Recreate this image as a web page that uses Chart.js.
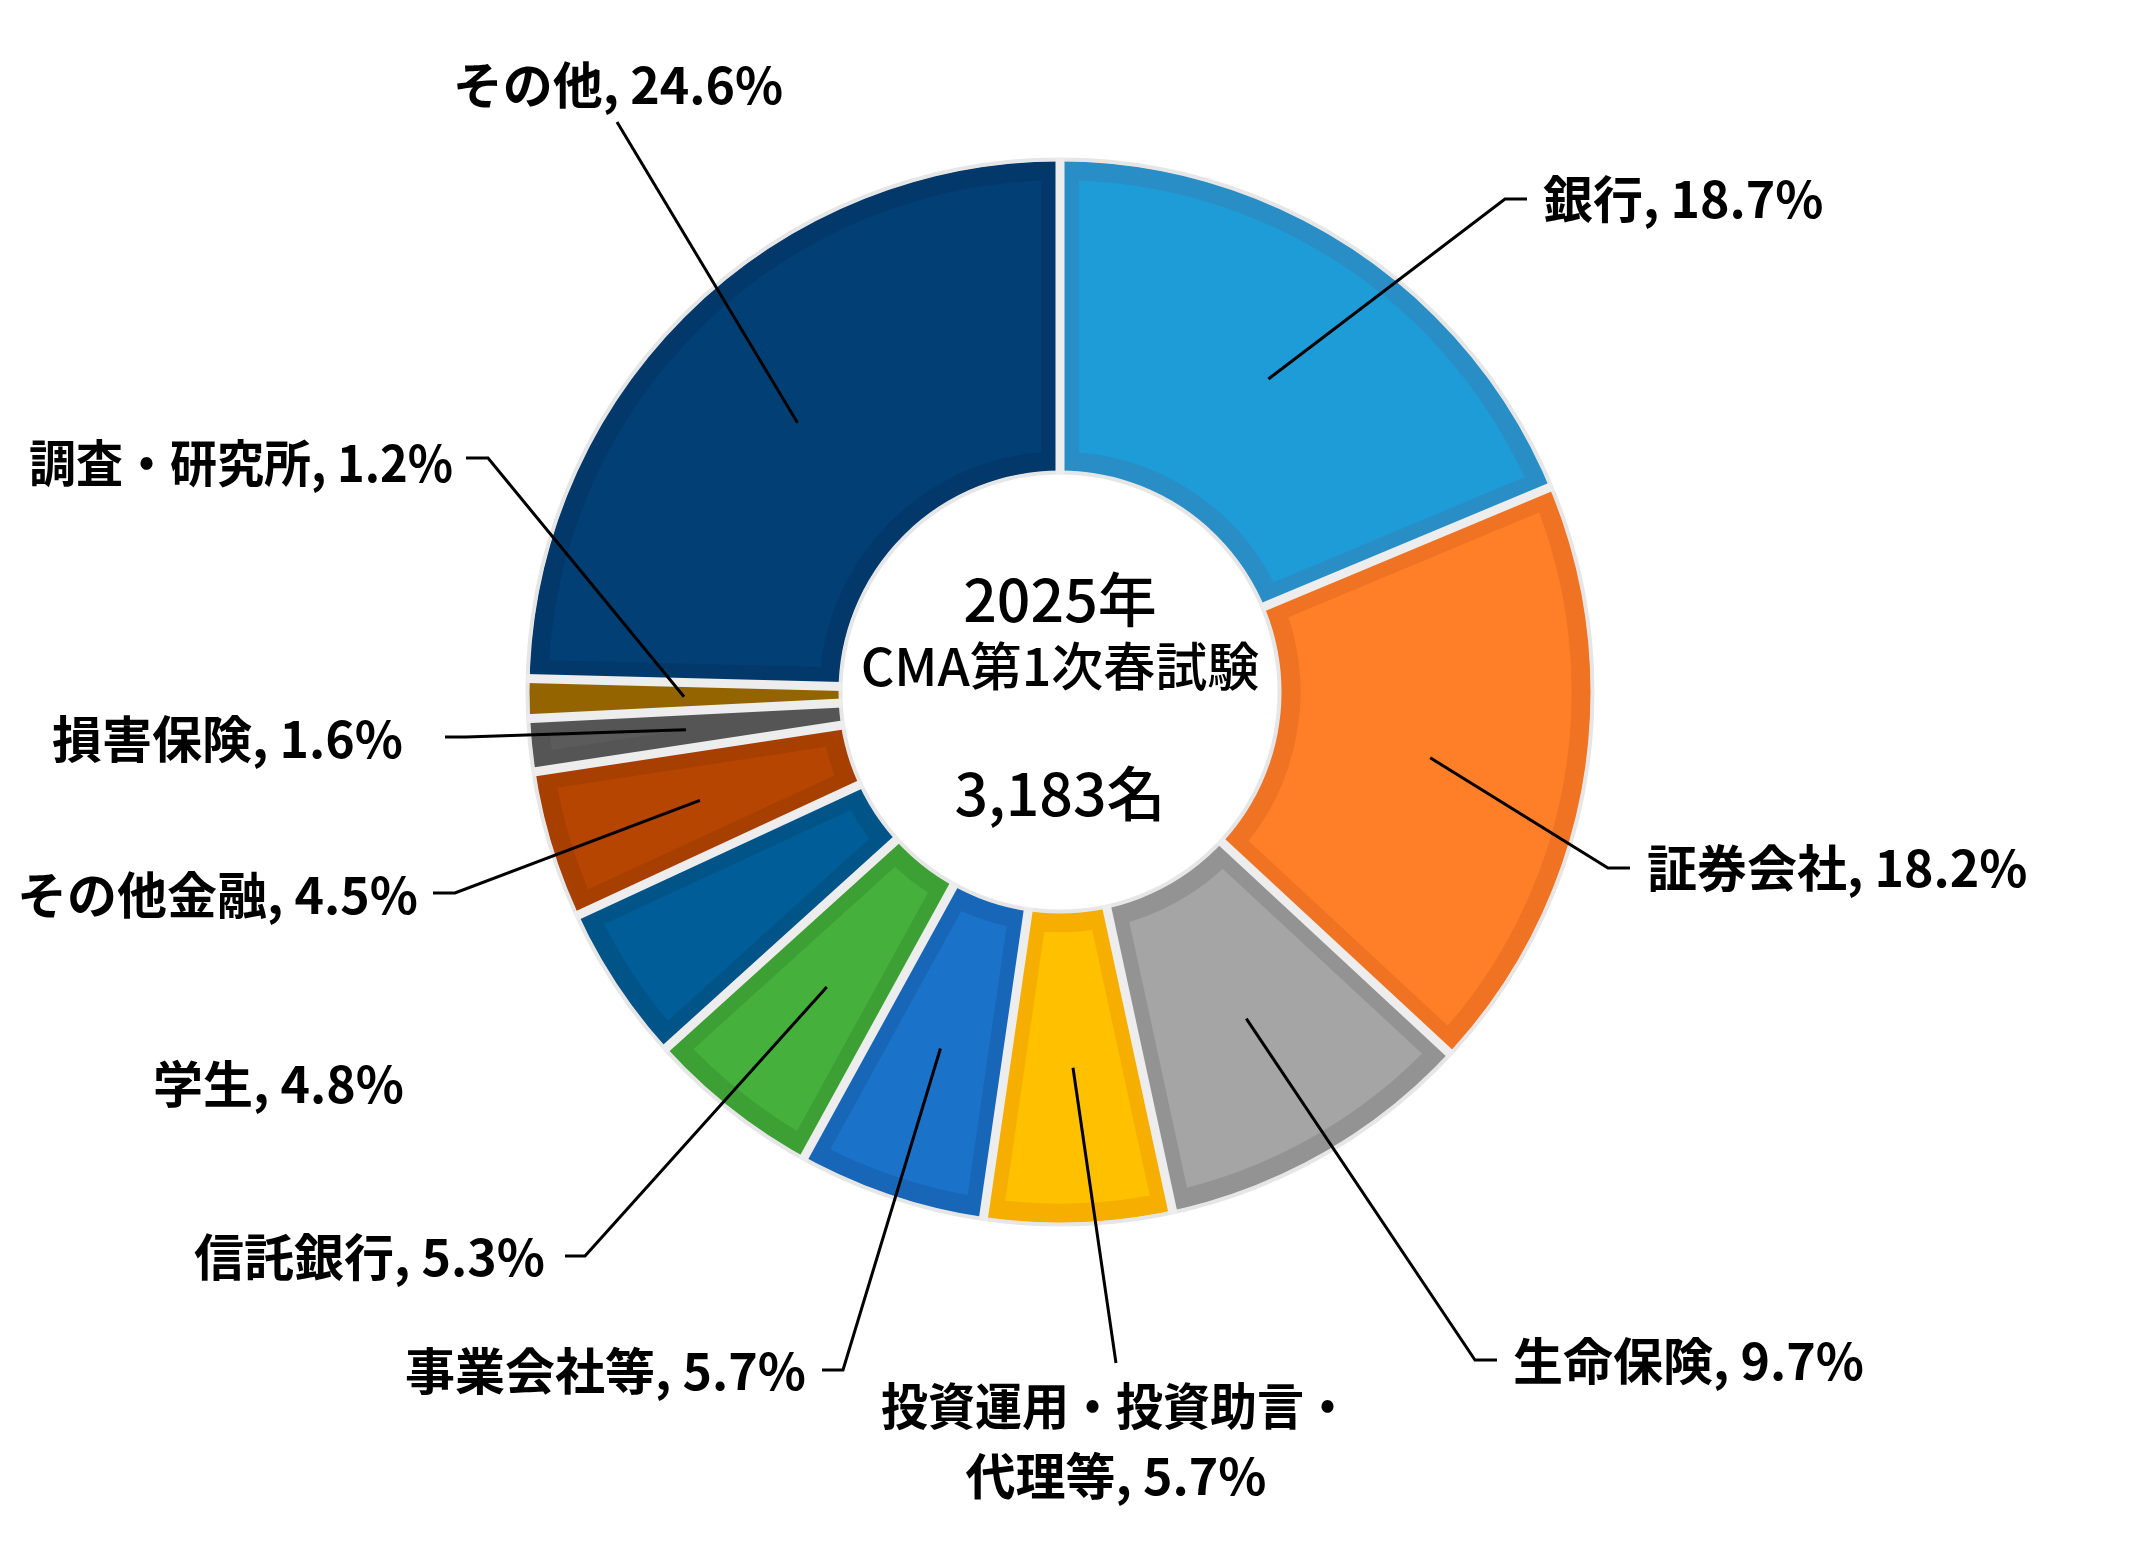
<!DOCTYPE html>
<html lang="ja">
<head>
    <meta charset="UTF-8">
    <title>2025年 CMA第1次春試験 受験者内訳</title>
    <style>
        html, body {
            margin: 0;
            padding: 0;
            background: #ffffff;
        }
        #wrap {
            width: 2148px;
            height: 1546px;
        }
    </style>
    <script src="https://cdn.jsdelivr.net/npm/chart.js@4.4.1/dist/chart.umd.min.js"></script>
</head>
<body>
    <div id="wrap">
        <canvas id="donut" width="2148" height="1546"></canvas>
    </div>

    <script>
        // 業種別の割合 (%)
        const categories = ["銀行", "証券会社", "生命保険", "投資運用・投資助言・代理等", "事業会社等", "信託銀行", "学生", "その他金融", "損害保険", "調査・研究所", "その他"];
        const shares = [18.7, 18.2, 9.7, 5.7, 5.7, 5.3, 4.8, 4.5, 1.6, 1.2, 24.6];
        const centerLines = ["2025年", "CMA第1次春試験", "3,183名"];

        const fills   = ["#1e9cd8", "#fe7f27", "#a5a5a5", "#ffc000", "#1a73c9", "#45b03b", "#005d97", "#b54500", "#5b5b5b", "#9b6a00", "#023f75"];
        const borders = ["#2a8ec6", "#ef7322", "#939393", "#f6ae00", "#1866b8", "#3ca034", "#005488", "#a63f00", "#555555", "#936400", "#02396a"];

        // ラベル位置と引き出し線 (px)
        // align: l=左端基準, r=右端基準, c=中央
        const labelLayout = [
            {x: 1543, y: 199, align: "l", path: [[1505, 199], [1527, 199]]},
            {x: 1647, y: 868, align: "l", path: [[1608, 868], [1630, 868]]},
            {x: 1513, y: 1361, align: "l", path: [[1475, 1360], [1497, 1360]]},
            {x: 1116, y: 1406, align: "c", path: [[1116, 1363]], lines: ["投資運用・投資助言・", "代理等, 5.7%"], maxW: 470},
            {x: 806, y: 1371, align: "r", path: [[843, 1370], [822, 1370]]},
            {x: 545, y: 1257, align: "r", path: [[585, 1256], [565, 1256]]},
            {x: 404, y: 1084, align: "r", path: null},
            {x: 418, y: 895, align: "r", path: [[455, 893], [433, 893]]},
            {x: 403, y: 739, align: "r", path: [[466, 737], [445, 737]]},
            {x: 453, y: 463, align: "r", path: [[488, 458], [466, 458]], maxW: 424},
            {x: 618, y: 85, align: "c", path: [[617, 122]]}
        ];

        const labelFont = "bold 50px 'Noto Sans CJK JP', 'Noto Sans CJK SC', sans-serif";
        const centerFontBig = "500 59px 'Noto Sans CJK JP', 'Noto Sans CJK SC', sans-serif";
        const centerFont = "500 52px 'Noto Sans CJK JP', 'Noto Sans CJK SC', sans-serif";

        const ringDeco = {
            id: "ringDeco",
            afterDatasetsDraw(chart) {
                const ctx = chart.ctx;
                const arcs = chart.getDatasetMeta(0).data;
                if (!arcs.length) return;
                const cx = arcs[0].x, cy = arcs[0].y;
                const rin = arcs[0].innerRadius, rout = arcs[0].outerRadius;
                ctx.save();
                // 外周・内周のうすいふち
                ctx.strokeStyle = "#e6e6e6";
                ctx.lineWidth = 4;
                ctx.beginPath();
                ctx.arc(cx, cy, rout + 1.5, 0, Math.PI * 2);
                ctx.stroke();
                ctx.beginPath();
                ctx.arc(cx, cy, rin - 1.5, 0, Math.PI * 2);
                ctx.stroke();
                // 区切り線
                ctx.strokeStyle = "#ededed";
                ctx.lineWidth = 9;
                ctx.lineCap = "butt";
                arcs.forEach(a => {
                    const ang = a.startAngle;
                    ctx.beginPath();
                    ctx.moveTo(cx + Math.cos(ang) * (rin - 3), cy + Math.sin(ang) * (rin - 3));
                    ctx.lineTo(cx + Math.cos(ang) * (rout + 3), cy + Math.sin(ang) * (rout + 3));
                    ctx.stroke();
                });
                ctx.restore();
            }
        };

        const labelsAndLeaders = {
            id: "labelsAndLeaders",
            afterDraw(chart) {
                const ctx = chart.ctx;
                const arcs = chart.getDatasetMeta(0).data;
                ctx.save();

                // 中央のテキスト
                const cx = arcs[0].x;
                ctx.fillStyle = "#000000";
                ctx.textAlign = "center";
                ctx.textBaseline = "middle";
                ctx.font = centerFontBig;
                ctx.fillText(centerLines[0], cx, 600);
                ctx.font = centerFont;
                ctx.fillText(centerLines[1], cx, 666);
                ctx.font = centerFontBig;
                ctx.fillText(centerLines[2], cx, 794);

                // 引き出し線
                ctx.strokeStyle = "#000000";
                ctx.lineWidth = 3;
                ctx.lineJoin = "miter";
                arcs.forEach((a, i) => {
                    const lay = labelLayout[i];
                    if (!lay.path) return;
                    const mid = (a.startAngle + a.endAngle) / 2;
                    const r = (a.innerRadius + a.outerRadius) / 2;
                    ctx.beginPath();
                    ctx.moveTo(a.x + Math.cos(mid) * r, a.y + Math.sin(mid) * r);
                    lay.path.forEach(p => ctx.lineTo(p[0], p[1]));
                    ctx.stroke();
                });

                // ラベル
                ctx.fillStyle = "#000000";
                ctx.font = labelFont;
                ctx.textBaseline = "middle";
                categories.forEach((name, i) => {
                    const lay = labelLayout[i];
                    ctx.textAlign = lay.align === "l" ? "left" : (lay.align === "r" ? "right" : "center");
                    if (lay.lines) {
                        lay.lines.forEach((t, k) => {
                            if (k === 0 && lay.maxW) ctx.fillText(t, lay.x, lay.y, lay.maxW);
                            else ctx.fillText(t, lay.x, lay.y + k * 70);
                        });
                    } else {
                        const txt = name + ", " + shares[i].toFixed(1) + "%";
                        if (lay.maxW) ctx.fillText(txt, lay.x, lay.y, lay.maxW);
                        else ctx.fillText(txt, lay.x, lay.y);
                    }
                });
                ctx.restore();
            }
        };

        new Chart(document.getElementById("donut"), {
            type: "doughnut",
            data: {
                labels: categories,
                datasets: [{
                    data: shares,
                    backgroundColor: fills,
                    borderColor: borders,
                    borderWidth: 19,
                    borderAlign: "inner",
                    borderJoinStyle: "miter",
                    hoverOffset: 0
                }]
            },
            options: {
                responsive: false,
                devicePixelRatio: 1,
                animation: false,
                cutout: 221,
                layout: {
                    padding: {left: 529, right: 557, top: 161, bottom: 323}
                },
                plugins: {
                    legend: {display: false},
                    tooltip: {enabled: false}
                }
            },
            plugins: [ringDeco, labelsAndLeaders]
        });
    </script>
</body>
</html>
